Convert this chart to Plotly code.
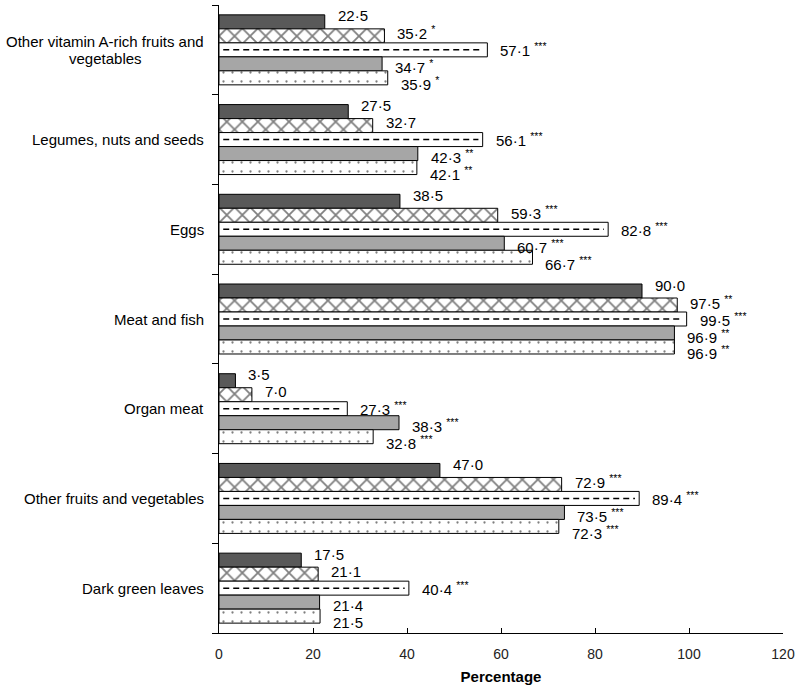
import plotly.graph_objects as go

categories = [
    "Other vitamin A-rich fruits and<br>vegetables",
    "Legumes, nuts and seeds",
    "Eggs",
    "Meat and fish",
    "Organ meat",
    "Other fruits and vegetables",
    "Dark green leaves",
]

s1 = [22.5, 27.5, 38.5, 90.0, 3.5, 47.0, 17.5]
s1_sig = ["", "", "", "", "", "", ""]
s2 = [35.2, 32.7, 59.3, 97.5, 7.0, 72.9, 21.1]
s2_sig = ["*", "", "***", "**", "", "***", ""]
s3 = [57.1, 56.1, 82.8, 99.5, 27.3, 89.4, 40.4]
s3_sig = ["***", "***", "***", "***", "***", "***", "***"]
s4 = [34.7, 42.3, 60.7, 96.9, 38.3, 73.5, 21.4]
s4_sig = ["*", "**", "***", "**", "***", "***", ""]
s5 = [35.9, 42.1, 66.7, 96.9, 32.8, 72.3, 21.5]
s5_sig = ["*", "**", "***", "**", "***", "***", ""]

x_ticks = [0, 20, 40, 60, 80, 100, 120]

series = [(s1, s1_sig), (s2, s2_sig), (s3, s3_sig), (s4, s4_sig), (s5, s5_sig)]

styles = [
    dict(color="#595959"),
    dict(color="white", pattern=dict(shape="x", size=11, solidity=0.3, fgcolor="black", bgcolor="white")),
    dict(color="white"),
    dict(color="#a6a6a6"),
    dict(color="white", pattern=dict(shape=".", size=9, solidity=0.05, fgcolor="black", bgcolor="white")),
]

W = 0.156
FONT = "Liberation Sans, Arial, sans-serif"


def lab(v, s):
    t = f"{v:.1f}".replace(".", "\u00b7")
    if s:
        t += " <sup>" + s + "</sup>"
    return t


fig = go.Figure()
idx = list(range(len(categories)))
for k, (vals, sig) in enumerate(series):
    ys = [i + (k - 2) * W for i in idx]
    fig.add_trace(go.Bar(
        x=vals, y=ys, orientation="h", width=W,
        marker=dict(line=dict(color="black", width=1), **styles[k]),
        showlegend=False, hoverinfo="skip",
    ))
    for v, s, yv in zip(vals, sig, ys):
        fig.add_annotation(x=v, y=yv, xref="x", yref="y", text=lab(v, s),
                           showarrow=False, xanchor="left", yanchor="middle",
                           xshift=11, yshift=-(k - 2) * 3,
                           font=dict(family=FONT, size=15, color="black"))

# dashed line through the middle of the third series bars
dx, dy = [], []
for i, v in zip(idx, s3):
    dx += [0.9, v - 0.9, None]
    dy += [i, i, None]
fig.add_trace(go.Scatter(x=dx, y=dy, mode="lines",
                         line=dict(color="black", width=1.5, dash="6px,4px"),
                         showlegend=False, hoverinfo="skip"))

LINE_H = 17
BLOCK_HALF_W = 101
for i, c in zip(idx, categories):
    lines = c.split("<br>")
    n = len(lines)
    for j, ln in enumerate(lines):
        if n == 1:
            fig.add_annotation(x=0, xref="paper", xshift=-13, y=i, yref="y", text=ln,
                               showarrow=False, xanchor="right",
                               font=dict(family=FONT, size=15, color="black"))
        else:
            fig.add_annotation(x=0, xref="paper", xshift=-13 - BLOCK_HALF_W, y=i, yref="y",
                               text=ln, yshift=((n - 1) / 2 - j) * LINE_H,
                               showarrow=False, xanchor="center",
                               font=dict(family=FONT, size=15, color="black"))

fig.update_layout(
    width=795, height=689,
    margin=dict(l=219, r=12, t=5, b=56),
    plot_bgcolor="white", paper_bgcolor="white",
    barmode="overlay",
    xaxis=dict(range=[0, 120], tickvals=x_ticks, ticks="inside", ticklen=5, tickcolor="black",
               showline=True, linecolor="black", linewidth=1, showgrid=False, zeroline=False,
               automargin=False,
               tickfont=dict(family="Liberation Sans Narrow, Arial Narrow, Liberation Sans, sans-serif", size=14, color="#222"),
               ticklabelstandoff=8, ticklabeloverflow="allow",
               title=dict(text="<b>Percentage</b>", standoff=10,
                          font=dict(family=FONT, size=15, color="black"))),
    yaxis=dict(range=[6.5, -0.5], tickvals=[i - 0.5 for i in range(8)], showticklabels=False,
               ticks="outside", ticklen=6, tickcolor="black", automargin=False,
               showline=True, linecolor="black", linewidth=1, showgrid=False, zeroline=False),
)

fig.write_html("out.html", config={"displayModeBar": False, "responsive": False},
               post_script="document.body.style.margin='0';")
